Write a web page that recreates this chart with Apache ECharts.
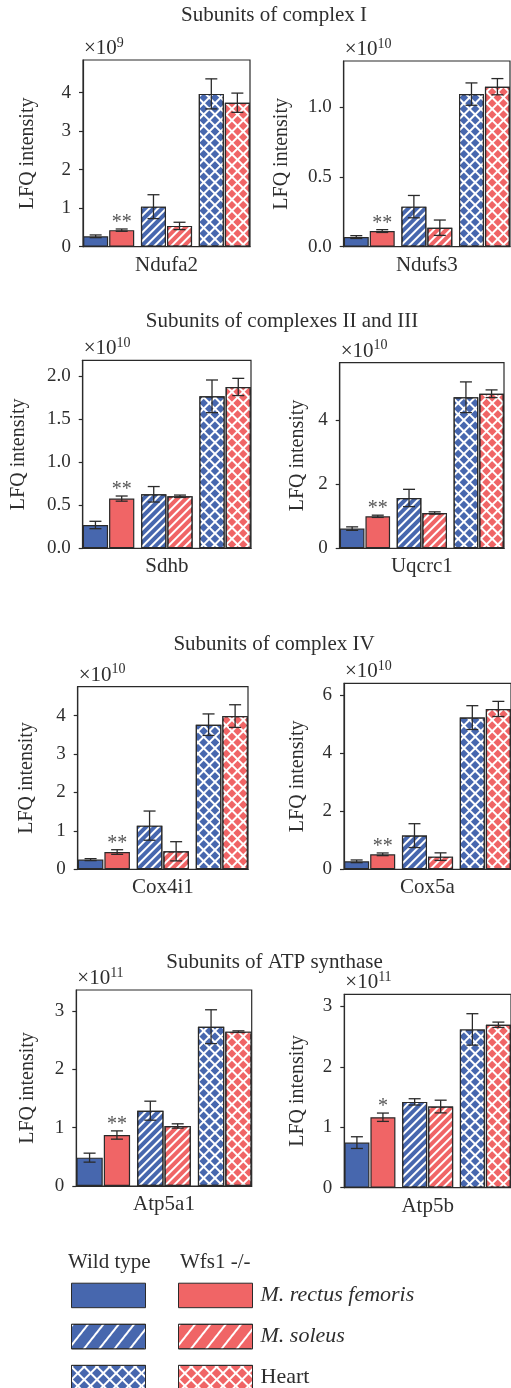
<!DOCTYPE html>
<html>
<head>
<meta charset="utf-8">
<script src="https://cdn.jsdelivr.net/npm/echarts@6/dist/echarts.min.js"></script>
<style>
  html, body { margin: 0; padding: 0; background: #fff; }
  #chart { width: 511px; height: 1388px; }
</style>
</head>
<body>
<div id="chart"></div>
<script>
// Valeurs, en unités de 10^exposant.
// Ordre des barres : WT rectus, KO rectus, WT soleus, KO soleus, WT heart, KO heart
const genes = ['Ndufa2', 'Ndufs3', 'Sdhb', 'Uqcrc1', 'Cox4i1', 'Cox5a', 'Atp5a1', 'Atp5b'];
const exponents = [9, 10, 10, 10, 10, 10, 11, 11];

const meanNdufa2 = [0.27, 0.43, 1.04, 0.54, 3.97, 3.74];
const sdNdufa2 = [0.035, 0.03, 0.31, 0.095, 0.39, 0.25];
const meanNdufs3 = [0.069, 0.112, 0.287, 0.136, 1.093, 1.146];
const sdNdufs3 = [0.01, 0.01, 0.08, 0.055, 0.08, 0.058];
const meanSdhb = [0.271, 0.578, 0.628, 0.605, 1.767, 1.876];
const sdSdhb = [0.043, 0.03, 0.09, 0.014, 0.19, 0.1];
const meanUqcrc1 = [0.615, 1.0, 1.573, 1.104, 4.72, 4.83];
const sdUqcrc1 = [0.055, 0.035, 0.27, 0.035, 0.48, 0.12];
const meanCox4i1 = [0.252, 0.45, 1.137, 0.469, 3.766, 3.99];
const sdCox4i1 = [0.026, 0.06, 0.38, 0.25, 0.28, 0.295];
const meanCox5a = [0.275, 0.516, 1.159, 0.436, 5.22, 5.518];
const sdCox5a = [0.046, 0.046, 0.41, 0.13, 0.41, 0.26];
const meanAtp5a1 = [0.486, 0.874, 1.291, 1.029, 2.731, 2.646];
const sdAtp5a1 = [0.077, 0.071, 0.163, 0.037, 0.29, 0.014];
const meanAtp5b = [0.746, 1.166, 1.42, 1.343, 2.619, 2.696];
const sdAtp5b = [0.097, 0.069, 0.052, 0.105, 0.26, 0.044];

const means = [meanNdufa2, meanNdufs3, meanSdhb, meanUqcrc1, meanCox4i1, meanCox5a, meanAtp5a1, meanAtp5b];
const sds = [sdNdufa2, sdNdufs3, sdSdhb, sdUqcrc1, sdCox4i1, sdCox5a, sdAtp5a1, sdAtp5b];
const sigMarks = ['**', '**', '**', '**', '**', '**', '**', '*'];

// Graduations de l'axe Y par panneau
const yTicks = [
  [0, 1, 2, 3, 4],
  [0, 0.5, 1.0],
  [0, 0.5, 1.0, 1.5, 2.0],
  [0, 2, 4],
  [0, 1, 2, 3, 4],
  [0, 2, 4, 6],
  [0, 1, 2, 3],
  [0, 1, 2, 3],
];
const yMax = [4.85, 1.33, 2.186, 5.8, 4.755, 6.4, 3.36, 3.2];
const tickDecimals = [0, 1, 1, 0, 0, 0, 0, 0];

const groupTitles = ['Subunits of complex I', 'Subunits of complexes II and III',
  'Subunits of complex IV', 'Subunits of ATP synthase'];
const seriesKeys = ['WT rectus', 'KO rectus', 'WT soleus', 'KO soleus', 'WT heart', 'KO heart'];
const genotypeLabels = ['Wild type', 'Wfs1 -/-'];
const tissueLabels = ['M. rectus femoris', 'M. soleus', 'Heart'];
const tissueItalic = [true, true, false];

// -- mise en page (px) ---------------------------------------------------
const gridBoxes = [ // left, top, width, height
  [83, 60, 167, 186.7],
  [343.7, 61, 166.3, 185.7],
  [82.7, 360.3, 168.3, 188],
  [339.7, 362.7, 164.3, 185.6],
  [77.7, 686.7, 170.3, 182.6],
  [344, 683.3, 170, 186],
  [76.3, 990, 175.4, 196],
  [344.3, 994.3, 170, 193.4],
];
const yNameGaps = [45, 52, 54, 32, 41, 36, 39, 37];
const titleY = [15.7, 321.7, 644, 962];
const titleX = [274, 282, 274, 274.5];

const FONT = '"Liberation Serif", "DejaVu Serif", serif';
const INK = '#2a2a2a';
const TEXT = '#2e2e2e';
const BLUE = '#4767ae';
const RED = '#f06566';

const hatchDecal = { symbol: 'rect', symbolSize: 1, color: '#fff', dashArrayX: [1, 0], dashArrayY: [2, 4], rotation: -Math.PI / 4 };
const crossDecal = { symbol: 'rect', symbolSize: 1, color: '#fff', dashArrayX: [[8, 0], [2, 6]], dashArrayY: [2, 0, 6, 0], rotation: Math.PI / 4 };
const legendHatch = { symbol: 'rect', symbolSize: 1, color: '#fff', dashArrayX: [1, 0], dashArrayY: [2, 10], rotation: -0.9 };
const legendCross = { symbol: 'rect', symbolSize: 1, color: '#fff', dashArrayX: [[9, 0], [2, 7]], dashArrayY: [2, 0, 7, 0], rotation: Math.PI / 4 };
const tissueDecals = [null, hatchDecal, crossDecal];
const legendDecals = [null, legendHatch, legendCross];

// colonnes : 6 barres + 2 intercalaires vides pour grouper par tissu
const BAR_W = 0.15, SPACER_W = 0.033, GAP = 0.04;
const columnOrder = [0, 1, null, 2, 3, null, 4, 5];
const colWidths = columnOrder.map((k) => (k === null ? SPACER_W : BAR_W));
let _sum = 0;
colWidths.forEach((w) => (_sum += w * (1 + GAP)));
_sum -= colWidths[colWidths.length - 1] * GAP;
let _off = -_sum / 2;
const colCenters = colWidths.map((w) => { const c = _off + w / 2; _off += w * (1 + GAP); return c; });
const barCenters = [0, 1, 3, 4, 6, 7].map((i) => colCenters[i]);
const CAP = 6;

function errorSeries(g) {
  return {
    type: 'custom',
    xAxisIndex: g, yAxisIndex: g, z: 5, silent: true,
    data: means[g].map((m, k) => [0, m, sds[g][k], k]),
    encode: { x: 0, y: 1 },
    renderItem: (params, api) => {
      const m = api.value(1), s = api.value(2), k = api.value(3);
      const band = api.size([1, 0])[0];
      const x = api.coord([0, m])[0] + band * barCenters[k];
      const yTop = api.coord([0, m + s])[1];
      const yBot = api.coord([0, m - s])[1];
      const st = { stroke: INK, lineWidth: 1.3 };
      const children = [
        { type: 'line', shape: { x1: x, y1: yTop, x2: x, y2: yBot }, style: st },
        { type: 'line', shape: { x1: x - CAP, y1: yTop, x2: x + CAP, y2: yTop }, style: st },
        { type: 'line', shape: { x1: x - CAP, y1: yBot, x2: x + CAP, y2: yBot }, style: st },
      ];
      if (k === 1) {
        children.push({
          type: 'text', x, y: yTop + 4,
          style: { text: sigMarks[g], fill: '#555', fontSize: 20, fontFamily: FONT,
            align: 'center', verticalAlign: 'bottom', textAlign: 'center', textVerticalAlign: 'bottom' },
        });
      }
      return { type: 'group', children };
    },
  };
}

const option = {
  animation: false,
  backgroundColor: '#fff',
  grid: [], xAxis: [], yAxis: [], series: [], graphic: [],
};

genes.forEach((gene, g) => {
  const [left, top, width, height] = gridBoxes[g];
  option.grid.push({ left, top, width, height, show: true, borderColor: INK, borderWidth: 1.2, backgroundColor: 'transparent' });
  option.xAxis.push({
    type: 'category', gridIndex: g, data: [gene],
    axisTick: { show: false },
    axisLine: { lineStyle: { color: INK, width: 1.2 } },
    axisLabel: { color: TEXT, fontFamily: FONT, fontSize: 21, margin: 8 },
  });
  const ticks = yTicks[g];
  option.yAxis.push({
    type: 'value', gridIndex: g, min: 0, max: yMax[g], interval: ticks[1] - ticks[0],
    name: 'LFQ intensity', nameLocation: 'middle', nameGap: yNameGaps[g],
    nameTextStyle: { color: TEXT, fontFamily: FONT, fontSize: 20 },
    splitLine: { show: false },
    axisLine: { show: true, lineStyle: { color: INK, width: 1.2 } },
    axisTick: { show: true, length: 4, customValues: ticks, lineStyle: { color: INK, width: 1.2 } },
    axisLabel: {
      color: TEXT, fontFamily: FONT, fontSize: 19, margin: 12, customValues: ticks,
      formatter: (v) => v.toFixed(tickDecimals[g]),
    },
  });
  columnOrder.forEach((k) => {
    if (k === null) {
      option.series.push({ type: 'bar', xAxisIndex: g, yAxisIndex: g, data: [], barWidth: (SPACER_W * 100) + '%', barGap: (GAP * 100) + '%', silent: true });
      return;
    }
    const itemStyle = { color: k % 2 ? RED : BLUE, borderColor: INK, borderWidth: 1.2 };
    const decal = tissueDecals[k >> 1];
    if (decal) itemStyle.decal = decal;
    option.series.push({
      type: 'bar', name: seriesKeys[k], xAxisIndex: g, yAxisIndex: g,
      data: [means[g][k]], barWidth: (BAR_W * 100) + '%', barGap: (GAP * 100) + '%',
      itemStyle, emphasis: { disabled: true },
    });
  });
  option.series.push(errorSeries(g));
  // facteur ×10^n au-dessus du cadre
  option.graphic.push({
    type: 'text', left: left + 1, top: top - 24,
    style: {
      text: `{a|×10}{b|${exponents[g]}}`,
      rich: {
        a: { fontSize: 21, fontFamily: FONT, fill: TEXT, lineHeight: 23, verticalAlign: 'bottom' },
        b: { fontSize: 14, fontFamily: FONT, fill: TEXT, lineHeight: 14, verticalAlign: 'top' },
      },
    },
  });
});

groupTitles.forEach((t, i) => {
  option.graphic.push({
    type: 'text', x: titleX[i], y: titleY[i],
    style: { text: t, fill: TEXT, fontSize: 21, fontFamily: FONT,
      align: 'center', verticalAlign: 'middle', textAlign: 'center', textVerticalAlign: 'middle' },
  });
});

// -- légende ---------------------------------------------------------------
[68, 180].forEach((x, i) => {
  option.graphic.push({
    type: 'text', x, y: 1262,
    style: { text: genotypeLabels[i], fill: TEXT, fontSize: 21, fontFamily: FONT,
      align: 'left', verticalAlign: 'middle', textAlign: 'left', textVerticalAlign: 'middle' },
  });
});

function legendData(genoIdx) {
  return [0, 1, 2].map((t) => {
    const item = { name: seriesKeys[t * 2 + genoIdx] };
    if (legendDecals[t]) item.itemStyle = { decal: legendDecals[t] };
    return item;
  });
}
const legendBase = {
  orient: 'vertical', top: 1282.7, height: 140, padding: 0, itemGap: 15.6,
  itemWidth: 74, itemHeight: 24.5, icon: 'rect', selectedMode: false,
  itemStyle: { borderColor: INK, borderWidth: 1 },
  textStyle: { color: TEXT, fontFamily: FONT, fontSize: 22, padding: [0, 0, 0, 3], rich: { i: { fontStyle: 'italic', fontFamily: FONT, fontSize: 22, color: TEXT } } },
};
option.legend = [
  Object.assign({}, legendBase, { left: 71, data: legendData(0), formatter: () => '' }),
  Object.assign({}, legendBase, {
    left: 178, data: legendData(1),
    formatter: (name) => {
      const t = seriesKeys.indexOf(name) >> 1;
      return tissueItalic[t] ? `{i|${tissueLabels[t]}}` : tissueLabels[t];
    },
  }),
];

const chart = echarts.init(document.getElementById('chart'), null, { renderer: 'canvas' });
chart.setOption(option);
</script>
</body>
</html>
